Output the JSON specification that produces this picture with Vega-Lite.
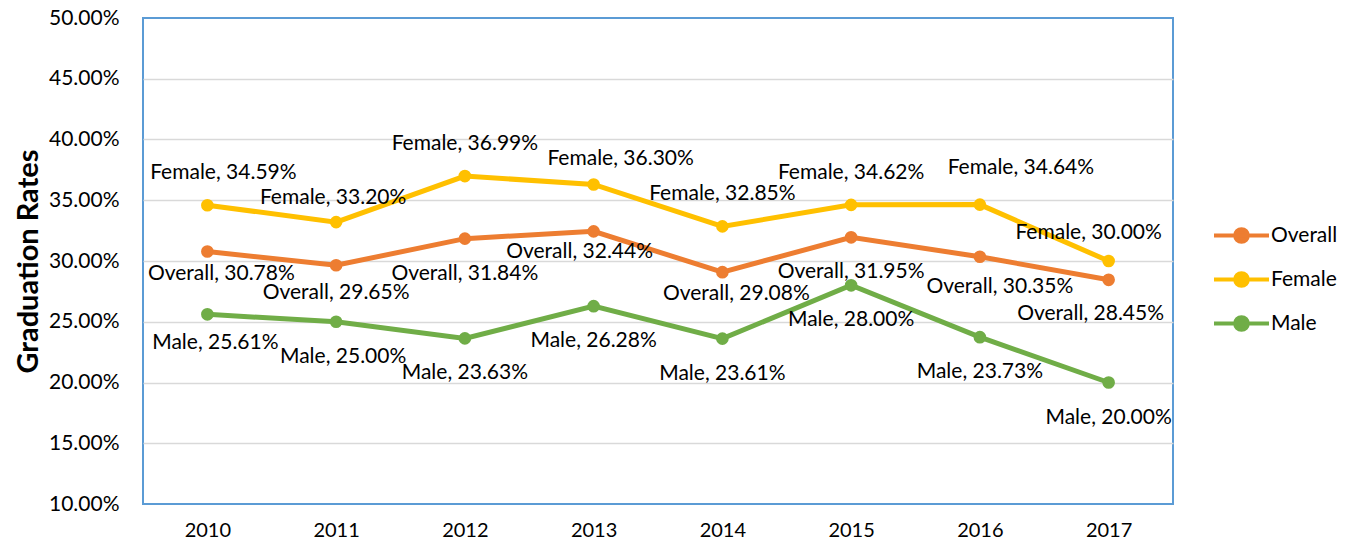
{
  "$schema": "https://vega.github.io/schema/vega-lite/v6.json",
  "width": 1030,
  "height": 486,
  "autosize": {"type": "none"},
  "padding": {"left": 143, "top": 18, "right": 183, "bottom": 40},
  "background": "white",
  "config": {
    "font": "Lato",
    "view": {"stroke": "#5B9BD5", "strokeWidth": 2},
    "text": {"font": "Lato", "fontSize": 21, "color": "#000000"}
  },
  "data": {
    "values": [
      {"year": "2010", "series": "Overall", "rate": 0.3078},
      {"year": "2011", "series": "Overall", "rate": 0.2965},
      {"year": "2012", "series": "Overall", "rate": 0.3184},
      {"year": "2013", "series": "Overall", "rate": 0.3244},
      {"year": "2014", "series": "Overall", "rate": 0.2908},
      {"year": "2015", "series": "Overall", "rate": 0.3195},
      {"year": "2016", "series": "Overall", "rate": 0.3035},
      {"year": "2017", "series": "Overall", "rate": 0.2845},
      {"year": "2010", "series": "Female", "rate": 0.3459},
      {"year": "2011", "series": "Female", "rate": 0.3320},
      {"year": "2012", "series": "Female", "rate": 0.3699},
      {"year": "2013", "series": "Female", "rate": 0.3630},
      {"year": "2014", "series": "Female", "rate": 0.3285},
      {"year": "2015", "series": "Female", "rate": 0.3462},
      {"year": "2016", "series": "Female", "rate": 0.3464},
      {"year": "2017", "series": "Female", "rate": 0.3000},
      {"year": "2010", "series": "Male", "rate": 0.2561},
      {"year": "2011", "series": "Male", "rate": 0.2500},
      {"year": "2012", "series": "Male", "rate": 0.2363},
      {"year": "2013", "series": "Male", "rate": 0.2628},
      {"year": "2014", "series": "Male", "rate": 0.2361},
      {"year": "2015", "series": "Male", "rate": 0.2800},
      {"year": "2016", "series": "Male", "rate": 0.2373},
      {"year": "2017", "series": "Male", "rate": 0.2000}
    ]
  },
  "transform": [
    {"calculate": "datum.series + ', ' + format(datum.rate, '.2%')", "as": "label"}
  ],
  "encoding": {
    "x": {
      "field": "year",
      "type": "ordinal",
      "scale": {"type": "point", "padding": 0.5},
      "axis": {
        "title": null,
        "labelAngle": 0,
        "labelFontSize": 20,
        "labelColor": "#000000",
        "labelPadding": 16,
        "domain": false,
        "ticks": false,
        "grid": false
      }
    },
    "y": {
      "field": "rate",
      "type": "quantitative",
      "scale": {"domain": [0.1, 0.5], "nice": false, "zero": false},
      "axis": {
        "title": "Graduation Rates",
        "titleFontSize": 29,
        "titleFontWeight": "bold",
        "titleColor": "#000000",
        "titlePadding": 5,
        "values": [0.1, 0.15, 0.2, 0.25, 0.3, 0.35, 0.4, 0.45, 0.5],
        "format": ".2%",
        "labelFontSize": 21,
        "labelColor": "#000000",
        "labelPadding": 24,
        "domain": false,
        "ticks": false,
        "grid": true,
        "gridColor": "#D9D9D9",
        "gridWidth": 1.5,
        "gridOpacity": {"condition": {"test": "datum.value <= 0.1001 || datum.value >= 0.4999", "value": 0}, "value": 1}
      }
    }
  },
  "layer": [
    {
      "mark": {"type": "line", "strokeWidth": 5},
      "encoding": {
        "color": {
          "field": "series",
          "type": "nominal",
          "scale": {"domain": ["Overall", "Female", "Male"], "range": ["#ED7D31", "#FFC000", "#70AD47"]},
          "legend": {
            "title": null,
            "orient": "none",
            "legendX": 1069,
            "legendY": 188,
            "padding": 0,
            "symbolType": "M-1,0L1,0M-0.23,0A0.23,0.23,0,1,1,0.23,0A0.23,0.23,0,1,1,-0.23,0Z",
            "symbolSize": 3025,
            "symbolStrokeWidth": 4,
            "labelFontSize": 21,
            "labelColor": "#000000",
            "labelOffset": 0,
            "rowPadding": 0,
            "encode": {
              "symbols": {
                "update": {
                  "fill": {"signal": "scale('color', datum.value)"},
                  "stroke": {"signal": "scale('color', datum.value)"},
                  "fillOpacity": {"value": 1}
                }
              }
            }
          }
        }
      }
    },
    {
      "mark": {"type": "point", "filled": true, "size": 160, "opacity": 1},
      "encoding": {
        "color": {"field": "series", "type": "nominal", "legend": null}
      }
    },
    {
      "transform": [{"filter": "datum.series == 'Female' && indexof(['2012','2014','2015'], datum.year) >= 0"}],
      "mark": {"type": "text", "dy": -32},
      "encoding": {"text": {"field": "label"}}
    },
    {
      "transform": [{"filter": "datum.series == 'Female' && datum.year == '2010'"}],
      "mark": {"type": "text", "dx": 16, "dy": -32},
      "encoding": {"text": {"field": "label"}}
    },
    {
      "transform": [{"filter": "datum.series == 'Female' && datum.year == '2011'"}],
      "mark": {"type": "text", "dx": -3, "dy": -24},
      "encoding": {"text": {"field": "label"}}
    },
    {
      "transform": [{"filter": "datum.series == 'Female' && datum.year == '2013'"}],
      "mark": {"type": "text", "dx": 27, "dy": -25},
      "encoding": {"text": {"field": "label"}}
    },
    {
      "transform": [{"filter": "datum.series == 'Female' && datum.year == '2016'"}],
      "mark": {"type": "text", "dx": 41, "dy": -37},
      "encoding": {"text": {"field": "label"}}
    },
    {
      "transform": [{"filter": "datum.series == 'Female' && datum.year == '2017'"}],
      "mark": {"type": "text", "dx": -20, "dy": -28},
      "encoding": {"text": {"field": "label"}}
    },
    {
      "transform": [{"filter": "datum.series == 'Overall' && indexof(['2012','2015'], datum.year) >= 0"}],
      "mark": {"type": "text", "dy": 35},
      "encoding": {"text": {"field": "label"}}
    },
    {
      "transform": [{"filter": "datum.series == 'Overall' && datum.year == '2011'"}],
      "mark": {"type": "text", "dy": 28},
      "encoding": {"text": {"field": "label"}}
    },
    {
      "transform": [{"filter": "datum.series == 'Overall' && indexof(['2010','2014'], datum.year) >= 0"}],
      "mark": {"type": "text", "dx": 14, "dy": 22},
      "encoding": {"text": {"field": "label"}}
    },
    {
      "transform": [{"filter": "datum.series == 'Overall' && datum.year == '2013'"}],
      "mark": {"type": "text", "dx": -14, "dy": 21},
      "encoding": {"text": {"field": "label"}}
    },
    {
      "transform": [{"filter": "datum.series == 'Overall' && datum.year == '2016'"}],
      "mark": {"type": "text", "dx": 20, "dy": 30},
      "encoding": {"text": {"field": "label"}}
    },
    {
      "transform": [{"filter": "datum.series == 'Overall' && datum.year == '2017'"}],
      "mark": {"type": "text", "dx": -18, "dy": 34},
      "encoding": {"text": {"field": "label"}}
    },
    {
      "transform": [{"filter": "datum.series == 'Male' && indexof(['2012','2013','2014','2015','2016','2017'], datum.year) >= 0"}],
      "mark": {"type": "text", "dy": 35},
      "encoding": {"text": {"field": "label"}}
    },
    {
      "transform": [{"filter": "datum.series == 'Male' && datum.year == '2011'"}],
      "mark": {"type": "text", "dx": 7, "dy": 35},
      "encoding": {"text": {"field": "label"}}
    },
    {
      "transform": [{"filter": "datum.series == 'Male' && datum.year == '2010'"}],
      "mark": {"type": "text", "dx": 8, "dy": 29},
      "encoding": {"text": {"field": "label"}}
    }
  ]
}
